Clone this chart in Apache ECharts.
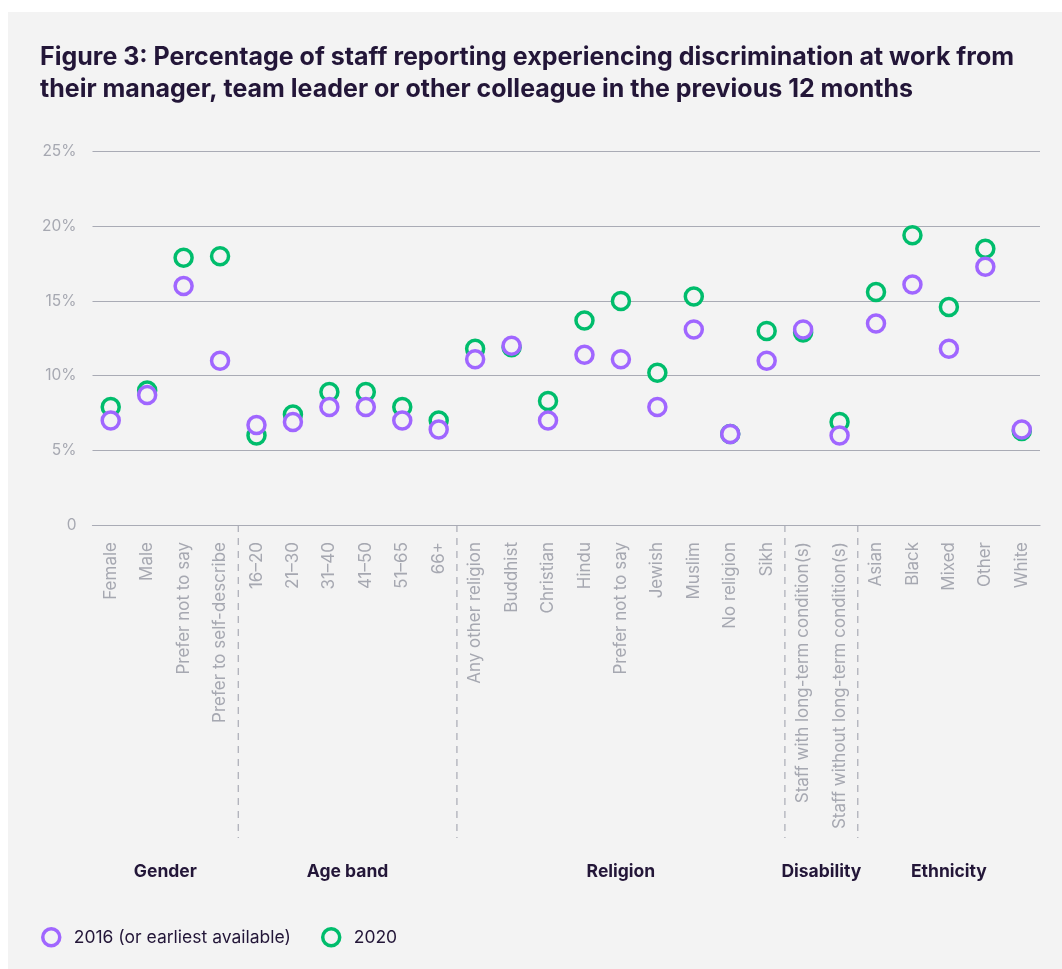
<!DOCTYPE html>
<html>
<head>
<meta charset="utf-8">
<script src="https://cdn.jsdelivr.net/npm/echarts@6/dist/echarts.min.js"></script>
<style>
  html, body { margin: 0; padding: 0; background: #fff; }
  #chart { position: absolute; left: 8px; top: 12px; width: 1054px; height: 957px; }
</style>
</head>
<body>
<div id="chart"></div>
<script>
// categories on the x axis, in the order they are drawn
const categories = [
  'Female', 'Male', 'Prefer not to say', 'Prefer to self-describe',
  '16–20', '21–30', '31–40', '41–50', '51–65', '66+',
  'Any other religion', 'Buddhist', 'Christian', 'Hindu', 'Prefer not to say ', 'Jewish', 'Muslim', 'No religion', 'Sikh',
  'Staff with long-term condition(s)', 'Staff without long-term condition(s)',
  'Asian', 'Black', 'Mixed', 'Other', 'White'
];
// how many categories each group holds
const groupNames = ['Gender', 'Age band', 'Religion', 'Disability', 'Ethnicity'];
const groupSizes = [4, 6, 9, 2, 5];

// percent of staff
const values2016 = [
  7.0, 8.7, 16.0, 11.0,
  6.7, 6.9, 7.9, 7.9, 7.0, 6.4,
  11.1, 12.0, 7.0, 11.4, 11.1, 7.9, 13.1, 6.1, 11.0,
  13.1, 6.0,
  13.5, 16.1, 11.8, 17.3, 6.4
];
const values2020 = [
  7.9, 9.0, 17.9, 18.0,
  6.0, 7.4, 8.9, 8.9, 7.9, 7.0,
  11.8, 11.9, 8.3, 13.7, 15.0, 10.2, 15.3, 6.1, 13.0,
  12.9, 6.9,
  15.6, 19.4, 14.6, 18.5, 6.3
];

const yMax = 25;
const yStep = 5;

const seriesNames = ['2016 (or earliest available)', '2020'];
const purple = '#a066ff';
const green = '#00bd6c';
const bg = '#f3f3f3';
const ink = '#231638';
const gridGrey = '#a9abb5';
const labelGrey = '#a6a8b1';
const font = 'Inter, Lato, "Noto Sans", sans-serif';

// [first index, last index, 0] for each group
const groupData = [];
let start = 0;
groupSizes.forEach((n) => {
  groupData.push([start, start + n - 1, 0]);
  start += n;
});

const chart = echarts.init(document.getElementById('chart'));

const dotStyle = (color) => ({
  color: bg,
  borderColor: color,
  borderWidth: 3.5,
  opacity: 1,
});

chart.setOption({
  backgroundColor: bg,
  animation: false,
  textStyle: { fontFamily: font },
  title: {
    text: 'Figure 3: Percentage of staff reporting experiencing discrimination at work from\ntheir manager, team leader or other colleague in the previous 12 months',
    left: 32,
    top: 29,
    padding: 0,
    textStyle: {
      fontFamily: font,
      fontSize: 25,
      fontWeight: 'bold',
      lineHeight: 32,
      color: ink,
    },
  },
  legend: {
    data: seriesNames,
    left: 33,
    top: 915,
    padding: 0,
    itemWidth: 17,
    itemHeight: 17,
    itemGap: 30,
    icon: 'circle',
    itemStyle: { borderWidth: 3.5, color: bg },
    textStyle: {
      fontFamily: font,
      fontSize: 17.5,
      color: ink,
      padding: [0, 0, 0, 9],
    },
    selectedMode: false,
  },
  grid: {
    left: 84.5,
    right: 22,
    top: 139.7,
    bottom: 444,
    containLabel: false,
  },
  xAxis: {
    type: 'category',
    data: categories,
    boundaryGap: true,
    axisLine: { show: true, lineStyle: { color: gridGrey, width: 1.2 } },
    axisTick: { show: false },
    axisLabel: {
      rotate: 90,
      interval: 0,
      margin: 17,
      color: labelGrey,
      fontSize: 17,
      fontFamily: font,
      formatter: (v) => v.trim(),
    },
  },
  yAxis: {
    type: 'value',
    min: 0,
    max: yMax,
    interval: yStep,
    axisLine: { show: false },
    axisTick: { show: false },
    splitLine: { lineStyle: { color: gridGrey, width: 1.2 } },
    axisLabel: {
      margin: 16,
      color: labelGrey,
      fontSize: 15.5,
      fontFamily: font,
      formatter: (v) => (v === 0 ? '0' : v + '%'),
    },
  },
  series: [
    {
      // group separators and group titles under the axis
      type: 'custom',
      name: 'groups',
      silent: true,
      clip: false,
      data: groupData,
      encode: { x: [0, 1], y: 2 },
      renderItem: (params, api) => {
        const first = api.value(0);
        const last = api.value(1);
        const a = api.coord([first, 0]);
        const b = api.coord([last, 0]);
        const band = api.size([1, 0])[0];
        const children = [
          {
            type: 'text',
            style: {
              text: groupNames[params.dataIndex],
              x: (a[0] + b[0]) / 2,
              y: a[1] + 347,
              align: 'center',
              verticalAlign: 'middle',
              fill: ink,
              font: 'bold 17.5px ' + font,
            },
          },
        ];
        if (first > 0) {
          children.push({
            type: 'line',
            shape: { x1: a[0] - band / 2, y1: a[1], x2: a[0] - band / 2, y2: a[1] + 313 },
            style: { stroke: gridGrey, lineWidth: 1.2, lineDash: [7, 6] },
          });
        }
        return { type: 'group', children };
      },
      z: 1,
    },
    {
      name: seriesNames[1],
      type: 'scatter',
      data: values2020,
      symbol: 'circle',
      symbolSize: 17,
      itemStyle: dotStyle(green),
      emphasis: { disabled: true },
      z: 3,
    },
    {
      name: seriesNames[0],
      type: 'scatter',
      data: values2016,
      symbol: 'circle',
      symbolSize: 17,
      itemStyle: dotStyle(purple),
      emphasis: { disabled: true },
      z: 4,
    },
  ],
});
</script>
</body>
</html>
